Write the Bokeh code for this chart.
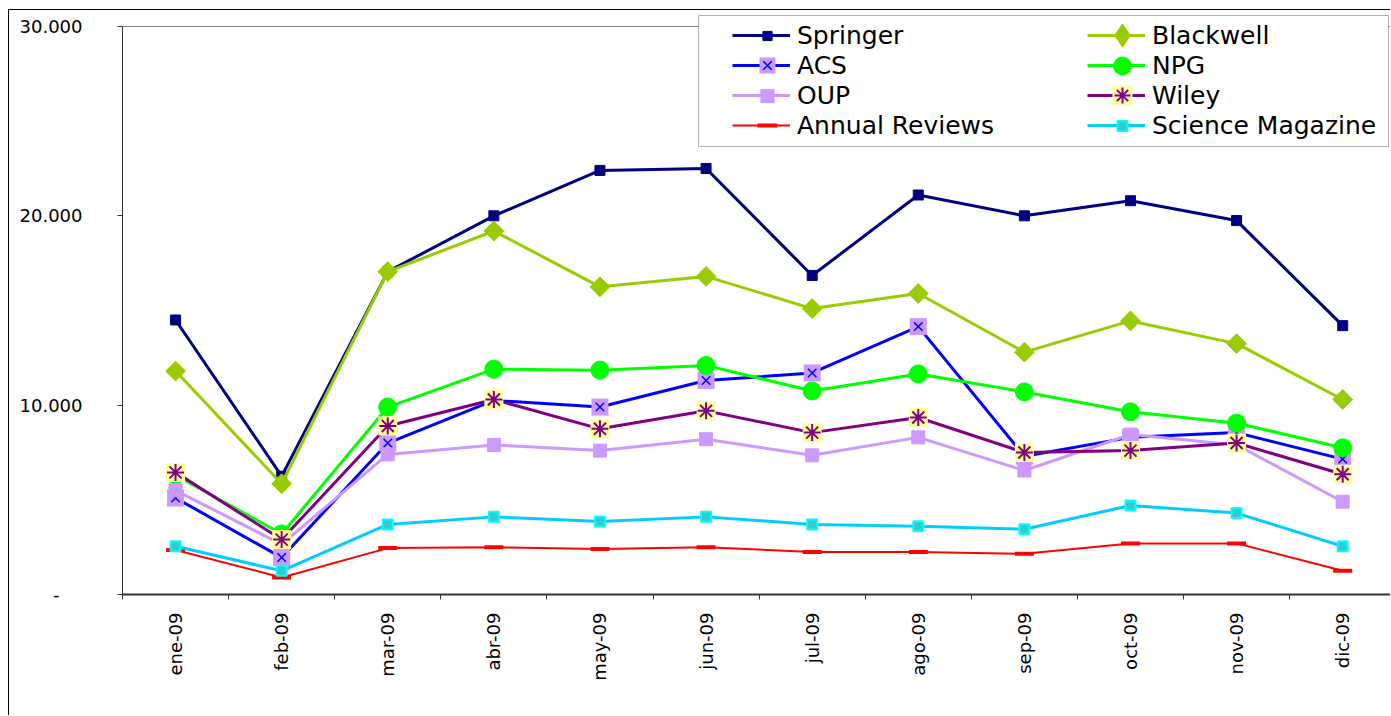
import numpy as np
from bokeh.plotting import figure
from bokeh.models import Range1d, FixedTicker, BoxAnnotation, Legend, LegendItem, Span
from bokeh.embed import file_html
from bokeh.resources import INLINE

months = ["ene-09", "feb-09", "mar-09", "abr-09", "may-09", "jun-09",
          "jul-09", "ago-09", "sep-09", "oct-09", "nov-09", "dic-09"]
springer = [14500, 6250, 17050, 20000, 22400, 22500, 16850, 21100, 20000, 20800, 19750, 14200]
blackwell = [11800, 5850, 17050, 19200, 16250, 16800, 15100, 15900, 12800, 14450, 13250, 10300]
acs = [5100, 1950, 8000, 10250, 9900, 11300, 11700, 14150, 7300, 8300, 8550, 7150]
npg = [6300, 3200, 9900, 11900, 11850, 12100, 10750, 11650, 10700, 9650, 9050, 7750]
oup = [5500, 2650, 7400, 7900, 7600, 8200, 7350, 8300, 6550, 8450, 7900, 4900]
wiley = [6450, 2900, 8900, 10300, 8750, 9700, 8550, 9350, 7500, 7600, 8000, 6350]
annual = [2350, 900, 2450, 2500, 2400, 2500, 2250, 2250, 2150, 2700, 2700, 1250]
science = [2550, 1250, 3700, 4100, 3850, 4100, 3700, 3600, 3450, 4700, 4300, 2550]

y_ticks = [0, 10000, 20000, 30000]
y_labels = ["-\u2007\u2007", "10.000", "20.000", "30.000"]

x = [i + 0.5 for i in range(len(months))]

p = figure(width=1382, height=706, output_backend="svg", toolbar_location=None,
           x_range=Range1d(0, 11.96), y_range=Range1d(0, 30634),
           min_border_left=113, min_border_right=0, min_border_top=4,
           min_border_bottom=122)
p.styles = {"margin-left": "8px", "margin-top": "9px",
            "border-left": "1px solid black", "border-top": "1px solid black"}
p.background_fill_color = "white"
p.outline_line_color = None
p.xgrid.visible = False
p.ygrid.visible = False

FONT = "DejaVu Sans"

xa = p.xaxis[0]
xa.ticker = FixedTicker(ticks=x, minor_ticks=list(range(len(months) + 1)))
xa.major_label_overrides = {xi: m for xi, m in zip(x, months)}
xa.major_label_orientation = np.pi / 2
xa.major_tick_out = 0
xa.major_tick_in = 0
xa.minor_tick_out = 5
xa.minor_tick_in = 0
xa.minor_tick_line_color = "#333333"
xa.axis_line_color = "#333333"
xa.axis_line_width = 2
xa.major_label_standoff = 13
xa.major_label_text_font = FONT
xa.major_label_text_font_size = "18px"
xa.major_label_text_color = "black"

ya = p.yaxis[0]
ya.ticker = FixedTicker(ticks=y_ticks, minor_ticks=[])
ya.major_label_overrides = {t: l for t, l in zip(y_ticks, y_labels)}
ya.bounds = (0, 30000)
ya.major_tick_out = 5
ya.major_tick_in = 0
ya.major_tick_line_color = "#333333"
ya.axis_line_color = "#333333"
ya.major_label_standoff = 35
ya.major_label_text_font = FONT
ya.major_label_text_font_size = "18px"
ya.major_label_text_color = "black"

# top border of the plot area (at the 30.000 level)
p.add_layout(Span(location=30000, dimension="width", line_color="#808080", line_width=1))


def series(ys, color, lw, markers):
    line = p.line(x, ys, line_color=color, line_width=lw)
    marks = []
    for m, g in markers:
        marks.append((p.scatter(x, ys, **m), g))
    return line, marks


# (marker props, legend glyph box height -> legend marker size = 0.4 * height)
s_springer = series(springer, "#000080", 3,
                    [(dict(marker="square", size=10, fill_color="#000080", line_color="#000080"), 23)])
s_blackwell = series(blackwell, "#99CC00", 3,
                     [(dict(marker="square", size=14, angle=np.pi / 4, fill_color="#99CC00", line_color="#99CC00"), None)])
s_acs = series(acs, "#0000FF", 3,
               [(dict(marker="square", size=17, fill_color="#CC99FF", line_color=None), 40),
                (dict(marker="x", size=12, line_color="#0000FF", line_width=1.5), 30)])
s_npg = series(npg, "#00FF00", 3,
               [(dict(marker="circle", size=18, fill_color="#00FF00", line_color="#00FF00"), 45)])
s_oup = series(oup, "#CC99FF", 3,
               [(dict(marker="square", size=13, fill_color="#CC99FF", line_color="#CC99FF"), 33)])
s_wiley = series(wiley, "#800080", 3,
                 [(dict(marker="square", size=19, fill_color="#FFFF99", line_color=None), 50),
                  (dict(marker="asterisk", size=17, line_color="#800080", line_width=2), 40)])
s_annual = series(annual, "#FF0000", 2,
                  [(dict(marker="dash", size=19, line_color="#FF0000", line_width=4), 50)])
s_science = series(science, "#00CCFF", 3,
                   [(dict(marker="square", size=10, fill_color="#33CCCC", line_color="#00FFFF", line_width=2), 25)])

# legend-only diamond for Blackwell (legend glyphs are drawn unrotated)
bw_legend_marker = p.scatter(x, blackwell, marker="diamond", size=20,
                             fill_color="#99CC00", line_color="#99CC00", visible=False)
s_blackwell[1][0] = (bw_legend_marker, 58)

box = BoxAnnotation(left=576, right=1266, bottom=448, top=579,
                    left_units="screen", right_units="screen",
                    bottom_units="screen", top_units="screen",
                    fill_color="white", fill_alpha=1.0,
                    line_color="black", line_width=1)
p.add_layout(box)

names = ["Springer", "ACS", "OUP", "Annual Reviews",
         "Blackwell", "NPG", "Wiley", "Science Magazine"]
order = [s_springer, s_acs, s_oup, s_annual, s_blackwell, s_npg, s_wiley, s_science]

legend = Legend(items=[LegendItem(label=n, renderers=[s[0]]) for n, s in zip(names, order)],
                location=(610, 454), ncols=2,
                label_text_font=FONT, label_text_font_size="25px",
                label_text_color="black",
                glyph_width=58, glyph_height=30, label_height=30,
                label_width=290, label_standoff=7, spacing=0, padding=6,
                margin=0, border_line_color=None, background_fill_alpha=0)
p.add_layout(legend)

# marker glyphs of the legend, one small legend per marker, centred on each row
row_centres = [35, 65, 95, 125]
col_left = [732, 1087]
for k, s in enumerate(order):
    col, row = divmod(k, 4)
    c = row_centres[row]
    for r, g in s[1]:
        lg = Legend(items=[LegendItem(label=" ", renderers=[r])],
                    location=(col_left[col] - 116, 594 - c - g / 2),
                    glyph_width=58, glyph_height=g, label_height=g,
                    label_width=0, label_standoff=0, label_text_font_size="1px",
                    spacing=0, padding=0, margin=0,
                    border_line_color=None, background_fill_alpha=0)
        p.add_layout(lg)

open("out.html", "w").write(file_html(p, INLINE))
